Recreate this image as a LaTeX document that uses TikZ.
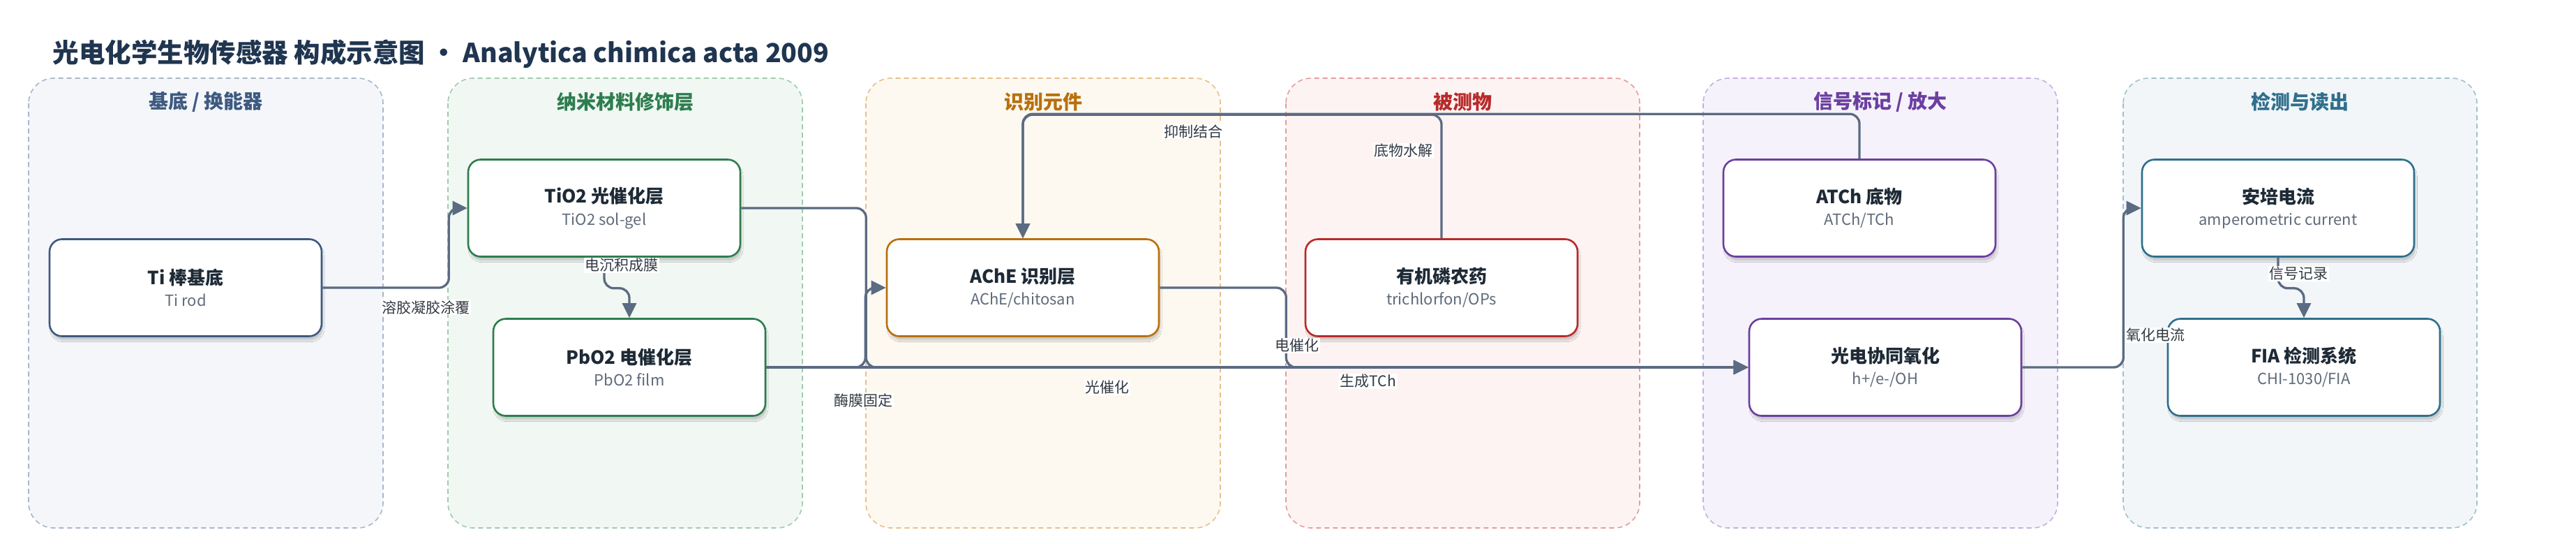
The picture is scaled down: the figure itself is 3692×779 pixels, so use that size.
\documentclass[tikz,border=0pt]{standalone}
\usepackage{fontspec}
\setmainfont{Noto Sans CJK SC}
\usetikzlibrary{arrows.meta,shadows.blur}

\definecolor{edgec}{HTML}{5A6B82}
\definecolor{titlec}{HTML}{1F3550}
\definecolor{subc}{HTML}{5F6B7A}
\definecolor{txtc}{HTML}{1E2A36}
\definecolor{labc}{HTML}{333A44}
\definecolor{bluec}{HTML}{3D5A80}
\definecolor{bluebg}{HTML}{F4F6FA}
\definecolor{bluedash}{HTML}{A8B6C8}
\definecolor{greenc}{HTML}{2E7D4F}
\definecolor{greenbg}{HTML}{F1F8F3}
\definecolor{greendash}{HTML}{9FCBAE}
\definecolor{orangec}{HTML}{B8700C}
\definecolor{orangebg}{HTML}{FDF8F0}
\definecolor{orangedash}{HTML}{E6C08A}
\definecolor{redc}{HTML}{B82A2A}
\definecolor{redbg}{HTML}{FDF3F2}
\definecolor{reddash}{HTML}{E39C9C}
\definecolor{purplec}{HTML}{6B3FA0}
\definecolor{purplebg}{HTML}{F6F2FB}
\definecolor{purpledash}{HTML}{C4AEE0}
\definecolor{tealc}{HTML}{2F6F8C}
\definecolor{tealbg}{HTML}{F2F6F8}
\definecolor{tealdash}{HTML}{9FC0CC}

\newcommand{\twoline}[2]{{\fontsize{26}{30}\selectfont\bfseries #1}\\[10pt]{\fontsize{22}{26}\selectfont\color{subc}#2}}

\tikzset{
  panel/.style 2 args={draw=#1, fill=#2, line width=1.6pt, dash pattern=on 7pt off 5pt, rounded corners=36pt},
  ptitle/.style={font=\fontsize{28}{28}\selectfont\bfseries, text=#1},
  blk/.style={draw=#1, fill=white, line width=2.6pt, rounded corners=18pt,
    minimum width=390pt, minimum height=139pt, align=center, text=txtc,
    blur shadow={shadow xshift=2pt, shadow yshift=-6pt, shadow opacity=18, shadow blur steps=6}},
  flow/.style={draw=edgec, line width=3.3pt, rounded corners=14pt, -{Triangle[length=21pt,width=20pt]}},
  lbl/.style={fill=white, text=labc, inner sep=1.5pt, font=\fontsize{21}{21}\selectfont},
}

\begin{document}
\begin{tikzpicture}[x=1pt,y=-1pt]
                \useasboundingbox (0,0) rectangle (3692,779);
                % title
                \node[anchor=west, text=titlec, font=\fontsize{37.5}{37.5}\selectfont\bfseries] (title) at (72,77)
                    {光电化学生物传感器 构成示意图 · Analytica chimica acta 2009};
                % panels
                \draw [panel={bluedash}{bluebg}] (41,112) rectangle (549,756);
                \draw [panel={greendash}{greenbg}] (642,112) rectangle (1150,756);
                \draw [panel={orangedash}{orangebg}] (1241,112) rectangle (1749,756);
                \draw [panel={reddash}{redbg}] (1843,112) rectangle (2350,756);
                \draw [panel={purpledash}{purplebg}] (2441,112) rectangle (2949,756);
                \draw [panel={tealdash}{tealbg}] (3043,112) rectangle (3550,756);
                \node [ptitle=bluec] (p1) at (295,146) {基底 / 换能器};
                \node [ptitle=greenc] (p2) at (896,146) {纳米材料修饰层};
                \node [ptitle=orangec] (p3) at (1495,146) {识别元件};
                \node [ptitle=redc] (p4) at (2096,146) {被测物};
                \node [ptitle=purplec] (p5) at (2695,146) {信号标记 / 放大};
                \node [ptitle=tealc] (p6) at (3296,146) {检测与读出};
                % nodes
                \node [blk=bluec] (ti) at (266,412) {\twoline{Ti 棒基底}{Ti rod}};
                \node [blk=greenc] (tio) at (866,298) {\twoline{TiO2 光催化层}{TiO2 sol-gel}};
                \node [blk=greenc] (pbo) at (902,526) {\twoline{PbO2 电催化层}{PbO2 film}};
                \node [blk=orangec] (ache) at (1466,412) {\twoline{AChE 识别层}{AChE/chitosan}};
                \node [blk=redc] (ops) at (2066,412) {\twoline{有机磷农药}{trichlorfon/OPs}};
                \node [blk=purplec] (atch) at (2665,298) {\twoline{ATCh 底物}{ATCh/TCh}};
                \node [blk=purplec] (pec) at (2702,526) {\twoline{光电协同氧化}{h+/e-/OH}};
                \node [blk=tealc] (amp) at (3265,298) {\twoline{安培电流}{amperometric current}};
                \node [blk=tealc] (fia) at (3302,526) {\twoline{FIA 检测系统}{CHI-1030/FIA}};
                % edges
                \draw [flow] (ti.east) -- ++(181,0) |- (tio.west);
                \draw [flow] (tio.south) -- ++(0,44) -| (pbo.north);
                \draw [flow] (pbo.east) -- ++(142,0) |- (ache.west);
                \draw [flow] (tio.east) -- ++(179,0) |- (pec.west);
                \draw [flow] (pbo.east) -- (pec.west);
                \draw [flow] (ache.east) -- ++(181,0) |- (pec.west);
                \draw [flow] (ops.north) -- ++(0,-177) -| (ache.north);
                \draw [flow] (atch.north) -- ++(0,-64) -| (ache.north);
                \draw [flow] (pec.east) -- ++(145,0) |- (amp.west);
                \draw [flow] (amp.south) -- ++(0,44) -| (fia.north);
                % edge labels
                \node [lbl] (l1) at (610,440) {溶胶凝胶涂覆};
                \node [lbl] (l2) at (891,380) {电沉积成膜};
                \node [lbl] (l3) at (1237,573) {酶膜固定};
                \node [lbl] (l4) at (1587,555) {光催化};
                \node [lbl] (l5) at (1859,495) {电催化};
                \node [lbl] (l6) at (1961,546) {生成TCh};
                \node [lbl] (l7) at (1710,188) {抑制结合};
                \node [lbl] (l8) at (2011,216) {底物水解};
                \node [lbl] (l9) at (3089,480) {氧化电流};
                \node [lbl] (l10) at (3294,392) {信号记录};
            \end{tikzpicture}
\end{document}
